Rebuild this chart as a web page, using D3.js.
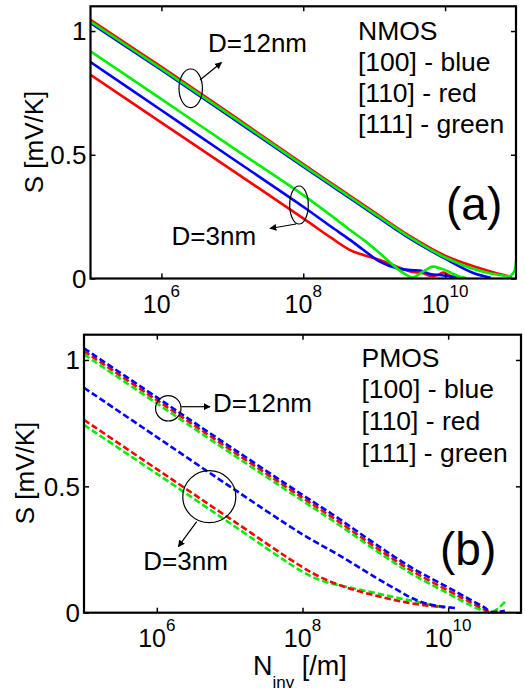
<!DOCTYPE html>
<html><head><meta charset="utf-8">
<script src="https://cdn.jsdelivr.net/npm/d3@7"></script>
<style>
html,body{margin:0;padding:0;background:#fff;}
svg{display:block;font-family:"Liberation Sans",Arial,sans-serif;}
</style></head>
<body>
<svg id="chart" width="525" height="693"></svg>
<script>
// ---------- data ----------
const xDomain = [1e5, 1e11];
const yDomain = [0, 1.1];
const xTickValues = [1e6, 1e8, 1e10];
const xTickExponents = ["6", "8", "10"];
const yTickValues = [0, 0.5, 1];
const yTickLabels = ["0", "0.5", "1"];
const yLabel = "S [mV/K]";
const xLabelMain = "N";
const xLabelSub = "inv";
const xLabelUnit = " [/m]";
const legendNMOS = ["NMOS", "[100] - blue", "[110] - red", "[111] - green"];
const legendPMOS = ["PMOS", "[100] - blue", "[110] - red", "[111] - green"];

// NMOS (panel a), D = 12 nm
const nmos12RedN   = [1e5,1e6,1e7,1e8,3.16e8,1e9,3.16e9,1e10,3.16e10,5.5e10,8.7e10];
const nmos12RedS   = [1.045,0.855,0.66,0.462,0.365,0.268,0.172,0.092,0.04,0.02,0.006];
const nmos12BlueN  = [1e5,1e6,1e7,1e8,3.16e8,1e9,3.16e9,1e10,2.5e10,4.4e10];
const nmos12BlueS  = [1.032,0.843,0.648,0.452,0.355,0.258,0.162,0.08,0.022,0.003];
const nmos12GreenN = [1e5,1e6,1e7,1e8,3.16e8,1e9,3.16e9,1e10,3.16e10,6.6e10,8.3e10,9.5e10,1e11];
const nmos12GreenS = [1.038,0.848,0.654,0.457,0.36,0.263,0.167,0.085,0.03,0.012,0.01,0.03,0.07];
// NMOS (panel a), D = 3 nm
const nmos3BlueN  = [1e5,1e6,1e7,1e8,2.4e8,4.57e8,7.08e8,1.2e9,2.09e9,3.24e9,4.47e9,6.17e9,8.51e9,1.17e10,1.48e10];
const nmos3BlueS  = [0.875,0.68,0.485,0.29,0.212,0.156,0.115,0.068,0.041,0.034,0.032,0.018,0.014,0.009,0.004];
const nmos3RedN   = [1e5,1e6,1e7,1e8,2.4e8,4.57e8,7.08e8,1.2e9,2.09e9,3.24e9,4.9e9,6.17e9,7.94e9,9.55e9,1.12e10,1.32e10];
const nmos3RedS   = [0.823,0.63,0.437,0.243,0.167,0.115,0.095,0.075,0.048,0.028,0.021,0.01,0.015,0.024,0.014,0.004];
const nmos3GreenN = [1e5,1e6,1e7,1e8,2.4e8,4.57e8,7.08e8,1.2e9,2.09e9,2.88e9,3.55e9,4.47e9,5.5e9,6.76e9,8.51e9,1.05e10,1.32e10,1.62e10,2.0e10];
const nmos3GreenS = [0.918,0.725,0.53,0.337,0.257,0.196,0.156,0.102,0.041,0.014,0.004,0.021,0.037,0.048,0.041,0.032,0.018,0.007,0.002];

// PMOS (panel b), D = 12 nm
const pmos12BlueN  = [1e5,1e6,1e7,1e8,3.16e8,1e9,3.16e9,1e10,2e10,3.16e10,3.8e10,5e10,6e10];
const pmos12BlueS  = [1.046,0.852,0.658,0.466,0.372,0.272,0.178,0.1,0.052,0.02,0.004,0.004,0.008];
const pmos12RedN   = [1e5,1e6,1e7,1e8,3.16e8,1e9,3.16e9,1e10,2e10,3.16e10,3.8e10,5e10];
const pmos12RedS   = [1.035,0.841,0.647,0.455,0.36,0.26,0.166,0.088,0.042,0.012,0.002,0.004];
const pmos12GreenN = [1e5,1e6,1e7,1e8,3.16e8,1e9,3.16e9,1e10,2e10,3.16e10,3.8e10,5e10,6.3e10];
const pmos12GreenS = [1.022,0.828,0.634,0.443,0.348,0.248,0.154,0.076,0.03,0.006,0.001,0.02,0.05];
// PMOS (panel b), D = 3 nm
const pmos3BlueN  = [1e5,1e6,1e7,1e8,3.16e8,1e9,2e9,3.16e9,5.62e9,1.12e10,1.26e10];
const pmos3BlueS  = [0.89,0.695,0.5,0.31,0.228,0.14,0.09,0.058,0.032,0.02,0.018];
const pmos3RedN   = [1e5,1e6,1e7,1e8,1.78e8,3.16e8,5.62e8,1e9,1.78e9,3.16e9,5.62e9,8.91e9];
const pmos3RedS   = [0.763,0.568,0.373,0.18,0.14,0.11,0.087,0.068,0.051,0.037,0.027,0.022];
const pmos3GreenN = [1e5,1e6,1e7,1e8,1.78e8,3.16e8,5.62e8,1e9,1.78e9,3.16e9,5.62e9,8.91e9];
const pmos3GreenS = [0.743,0.55,0.355,0.162,0.128,0.109,0.093,0.078,0.062,0.047,0.032,0.02];

// ---------- drawing ----------
const BLUE = "#0000ff", RED = "#ff0000", GREEN = "#00ee00";
const svg = d3.select("#chart");
const zip = (xs, ys) => xs.map((x, i) => [x, ys[i]]);

svg.append("defs").append("marker").attr("id", "arrow").attr("viewBox", "0 0 10 10")
  .attr("refX", 9).attr("refY", 5).attr("markerWidth", 7).attr("markerHeight", 7)
  .attr("markerUnits", "userSpaceOnUse").attr("orient", "auto")
  .append("path").attr("d", "M0,0 L10,5 L0,10 z").attr("fill", "#000");

function panel(cfg) {
  const x = d3.scaleLog().domain(xDomain).range([cfg.left, cfg.right]);
  const y = d3.scaleLinear().domain(yDomain).range([cfg.bottom, cfg.top]);
  const g = svg.append("g");

  const line = d3.line().x(d => x(d[0])).y(d => y(d[1])).curve(d3.curveCatmullRom.alpha(0.5));
  const clipId = "clip" + cfg.name;
  svg.append("clipPath").attr("id", clipId).append("rect")
    .attr("x", cfg.left).attr("y", cfg.top).attr("width", cfg.right - cfg.left).attr("height", cfg.bottom - cfg.top + 1);
  const lg = g.append("g").attr("clip-path", `url(#${clipId})`);
  cfg.series.forEach(s => {
    lg.append("path").datum(zip(s.n, s.s)).attr("d", line)
      .attr("fill", "none").attr("stroke", s.color).attr("stroke-width", 2.6)
      .attr("stroke-dasharray", cfg.dashed ? "6.5,3" : null)
      .attr("stroke-linejoin", "round");
  });

  // axes (ticks inward, box)
  const tl = 5;
  const ax = g.append("g").attr("transform", `translate(0,${cfg.bottom})`)
    .call(d3.axisBottom(x).tickValues(xTickValues).tickSize(-tl).tickFormat(""));
  const axT = g.append("g").attr("transform", `translate(0,${cfg.top})`)
    .call(d3.axisTop(x).tickValues(xTickValues).tickSize(-tl).tickFormat(""));
  const ay = g.append("g").attr("transform", `translate(${cfg.left},0)`)
    .call(d3.axisLeft(y).tickValues(yTickValues).tickSize(-tl).tickFormat(""));
  const ayR = g.append("g").attr("transform", `translate(${cfg.right},0)`)
    .call(d3.axisRight(y).tickValues(yTickValues).tickSize(-tl).tickFormat(""));
  [ax, axT, ay, ayR].forEach(a => {
    a.selectAll(".domain").remove();
    a.selectAll("line").attr("stroke", "#000").attr("stroke-width", 1.5);
  });
  g.append("rect").attr("x", cfg.left).attr("y", cfg.top)
    .attr("width", cfg.right - cfg.left).attr("height", cfg.bottom - cfg.top)
    .attr("fill", "none").attr("stroke", "#000").attr("stroke-width", 2.2);

  // y tick labels
  yTickValues.forEach((v, i) => {
    g.append("text").attr("x", cfg.left - 4).attr("y", y(v)).attr("dy", "0.36em")
      .attr("text-anchor", "end").attr("font-size", 26).text(yTickLabels[i]);
  });
  // x tick labels 10^k
  xTickValues.forEach((v, i) => {
    const t = g.append("text").attr("x", x(v)).attr("y", cfg.bottom + 34.5)
      .attr("text-anchor", "middle").attr("font-size", 25);
    t.append("tspan").text("10");
    t.append("tspan").attr("dy", -16).attr("font-size", 17).text(xTickExponents[i]);
  });
  // y label
  g.append("text").attr("transform", `translate(${cfg.yLabelX},${cfg.yLabelY}) rotate(-90)`)
    .attr("text-anchor", "middle").attr("font-size", 26).text(yLabel);

  // legend text
  cfg.legend.forEach((s, i) => {
    g.append("text").attr("x", cfg.legendX).attr("y", cfg.legendY + i * cfg.legendDy)
      .attr("font-size", 26.5).text(s);
  });
  // panel tag
  g.append("text").attr("x", cfg.tagX).attr("y", cfg.tagY).attr("font-size", 46).text(cfg.tag);

  // annotations
  cfg.notes.forEach(n => {
    g.append("ellipse").attr("cx", n.cx).attr("cy", n.cy).attr("rx", n.rx).attr("ry", n.ry)
      .attr("fill", "none").attr("stroke", "#000").attr("stroke-width", 1.2);
    g.append("line").attr("x1", n.a[0]).attr("y1", n.a[1]).attr("x2", n.a[2]).attr("y2", n.a[3])
      .attr("stroke", "#000").attr("stroke-width", 1.2).attr("marker-end", "url(#arrow)");
    g.append("text").attr("x", n.tx).attr("y", n.ty).attr("font-size", 26).text(n.text);
  });
  return {x, y, g};
}

panel({
  name: "a", left: 90.5, right: 516, top: 6.3, bottom: 278.5, dashed: false,
  series: [
    {n: nmos3RedN, s: nmos3RedS, color: RED},
    {n: nmos3BlueN, s: nmos3BlueS, color: BLUE},
    {n: nmos3GreenN, s: nmos3GreenS, color: GREEN},
    {n: nmos12RedN, s: nmos12RedS, color: RED},
    {n: nmos12BlueN, s: nmos12BlueS, color: BLUE},
    {n: nmos12GreenN, s: nmos12GreenS, color: GREEN}
  ],
  legend: legendNMOS, legendX: 358, legendY: 39.5, legendDy: 31.3,
  tag: "(a)", tagX: 446, tagY: 220,
  yLabelX: 43, yLabelY: 142,
  notes: [
    {cx: 190.7, cy: 88.3, rx: 11.7, ry: 19.3, a: [200, 80, 221.5, 62.5], tx: 208, ty: 52, text: "D=12nm"},
    {cx: 299, cy: 205, rx: 9.3, ry: 19, a: [296, 224, 270, 228.5], tx: 171.5, ty: 245, text: "D=3nm"}
  ]
});

const pb = panel({
  name: "b", left: 84, right: 521, top: 334.7, bottom: 612.7, dashed: true,
  series: [
    {n: pmos3GreenN, s: pmos3GreenS, color: GREEN},
    {n: pmos3RedN, s: pmos3RedS, color: RED},
    {n: pmos3BlueN, s: pmos3BlueS, color: BLUE},
    {n: pmos12GreenN, s: pmos12GreenS, color: GREEN},
    {n: pmos12RedN, s: pmos12RedS, color: RED},
    {n: pmos12BlueN, s: pmos12BlueS, color: BLUE}
  ],
  legend: legendPMOS, legendX: 361.5, legendY: 366.7, legendDy: 31.7,
  tag: "(b)", tagX: 440, tagY: 565,
  yLabelX: 33.5, yLabelY: 473,
  notes: [
    {cx: 168.3, cy: 408.3, rx: 12.7, ry: 12.7, a: [181.5, 406.7, 210, 406.7], tx: 213, ty: 411.7, text: "D=12nm"},
    {cx: 209.3, cy: 496.7, rx: 26.5, ry: 26, a: [196.7, 521.7, 178.3, 546.7], tx: 143.3, ty: 570, text: "D=3nm"}
  ]
});

// x axis title for panel b
const xt = pb.g.append("text").attr("x", 253).attr("y", 675).attr("font-size", 27);
xt.append("tspan").text(xLabelMain);
xt.append("tspan").attr("dy", 13).attr("font-size", 17).text(xLabelSub);
xt.append("tspan").attr("dy", -13).text(xLabelUnit);
</script>
</body></html>
